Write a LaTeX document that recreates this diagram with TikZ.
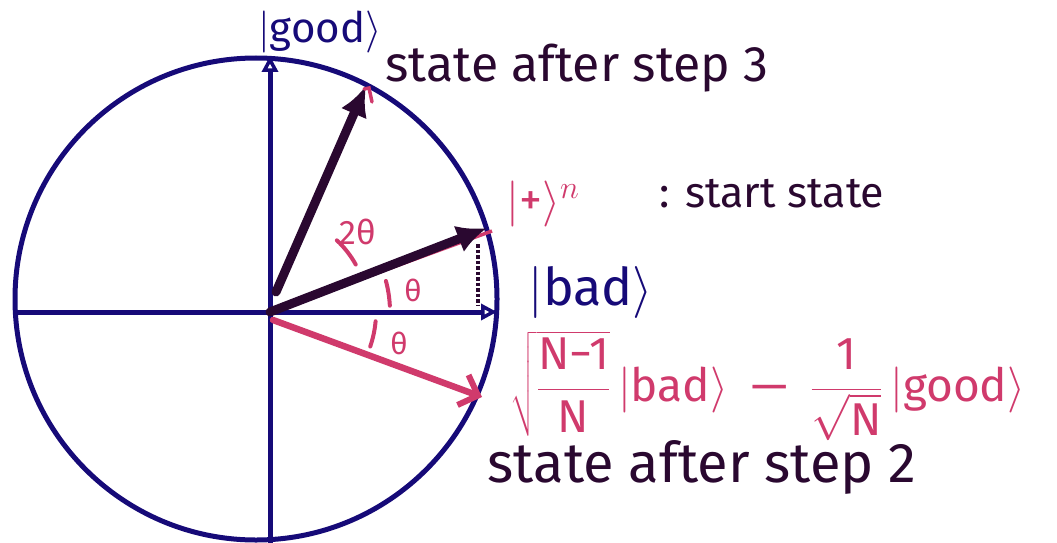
\documentclass[tikz,border=0pt]{standalone}
\usepackage{fix-cm}
\usepackage{amsmath}
\usepackage{fontspec}
\setmainfont{Fira Sans}
\usetikzlibrary{arrows.meta}
\definecolor{axisblue}{RGB}{22,10,120}
\definecolor{inkdark}{RGB}{42,8,48}
\definecolor{inkpink}{RGB}{208,58,108}
\newcommand{\ketof}[1]{$|$#1$\rangle$}
\begin{document}
\begin{tikzpicture}[x=1pt,y=-1pt,
  axisline/.style={draw=axisblue, line width=5pt},
  axisarrow/.style={axisline, -{Triangle[open, length=16pt, width=16pt, line width=3.5pt]}},
  statevec/.style={draw=inkdark, line width=9pt, line cap=round, -{Latex[length=30pt, width=28pt]}},
  pinkvec/.style={draw=inkpink, line width=6.5pt, line cap=round, -{Straight Barb[length=16pt, width=32pt, line width=6pt]}},
  anglearc/.style={draw=inkpink, line width=4pt, line cap=round},
  darklabel/.style={text=inkdark, inner sep=0pt},
  bluelabel/.style={text=axisblue, inner sep=0pt},
  pinklabel/.style={text=inkpink, inner sep=0pt}]
\useasboundingbox (0,0) rectangle (1057,543);

% circle and axes
\draw[axisline] (256,299) circle[radius=241pt];
\coordinate (O) at (270,312);
\coordinate (left) at (15,312);
\coordinate (right) at (497,312);
\coordinate (bottom) at (270,548);
\coordinate (top) at (270,56);
\draw[axisarrow] (left) -- (right);
\draw[axisarrow] (bottom) -- (top);

% start state
\coordinate (start) at (487,228);
\coordinate (startpink) at (492,231);
\coordinate (dropTop) at (478,244);
\coordinate (dropBot) at (478,306);
\draw[draw=inkpink, line width=3.5pt] (O) -- (startpink);
\draw[statevec] (O) -- (start);
\draw[draw=inkdark, line width=3.5pt, dotted] (dropTop) -- (dropBot);

% step 3
\coordinate (s3tail) at (276,292);
\coordinate (s3) at (366,86);
\draw[statevec] (s3tail) -- (s3);
\draw[draw=inkpink, line width=3.5pt, line cap=round] (364,89) -- (369,88) -- (372,102);

% step 2
\coordinate (s2tail) at (273,320);
\coordinate (s2) at (482,397);
\draw[pinkvec] (s2tail) -- (s2);

% angles
\draw[anglearc] (O) ++(47:98pt) arc[start angle=47, end angle=29, radius=98pt];
\draw[anglearc] (O) ++(15:120pt) arc[start angle=15, end angle=3, radius=120pt];
\draw[anglearc] (O) ++(-5:106pt) arc[start angle=-5, end angle=-19, radius=106pt];
\node[pinklabel, font=\fontsize{34}{36}\selectfont] (twotheta) at (358,232) {2θ};
\node[pinklabel, font=\fontsize{30}{32}\selectfont] (theta1) at (413,290) {θ};
\node[pinklabel, font=\fontsize{30}{32}\selectfont] (theta2) at (399,343) {θ};

% labels
\node[bluelabel, font=\fontsize{42}{46}\selectfont] (goodlbl) at (320,32) {\ketof{good}};
\node[bluelabel, font=\fontsize{52}{56}\selectfont] (badlbl) at (591,292) {\ketof{bad}};
\node[darklabel, font=\fontsize{50}{54}\selectfont] (step3lbl) at (577,68) {state after step 3};
\node[pinklabel, font=\fontsize{46}{50}\selectfont] (pluslbl) at (543,204) {\ketof{+}$^n$};
\node[darklabel, font=\fontsize{43}{46}\selectfont] (startlbl) at (772,194) {: start state};
\node[pinklabel, font=\fontsize{46}{50}\selectfont] (formula) at (768,386)
  {$\sqrt{\dfrac{\text{N−1}}{\text{N}}}$\,\ketof{bad}\enspace—\enspace$\dfrac{\text{1}}{\sqrt{\text{N}}}$\,\ketof{good}};
\node[darklabel, font=\fontsize{56}{60}\selectfont] (step2lbl) at (702,467) {state after step 2};
\end{tikzpicture}
\end{document}
